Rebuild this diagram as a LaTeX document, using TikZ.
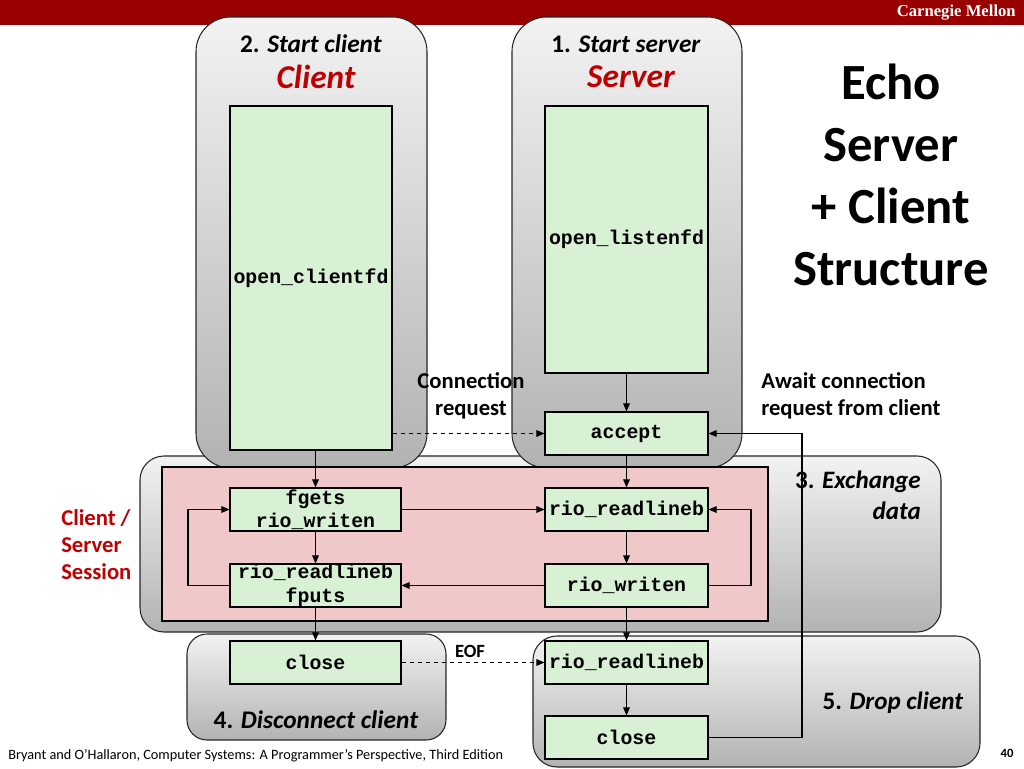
\documentclass[tikz,border=0pt]{standalone}
\usepackage{fontspec}
\setmainfont{Carlito}
\setmonofont{Liberation Mono}
\newfontfamily\hdrfont{Liberation Serif}
\usetikzlibrary{arrows.meta}
\definecolor{hdr}{RGB}{153,0,0}
\definecolor{cmred}{RGB}{192,0,0}
\definecolor{gfill}{RGB}{216,240,211}
\definecolor{pinkf}{RGB}{240,200,201}
\newcommand{\fs}[2]{\fontsize{#1}{#2}\selectfont}
\tikzset{
  gbox/.style={draw=black, fill=gfill, line width=0.9pt, inner sep=0pt, align=center,
    font=\ttfamily\bfseries\fs{14.9}{17.5}, minimum height=32.25pt, minimum width=122.25pt},
  wbox/.style={gbox, minimum width=128.25pt},
  cont/.style={draw=black!85, line width=0.8pt, top color=black!5, bottom color=black!30},
  arr/.style={-{Triangle[length=6pt,width=5pt]}, line width=0.8pt},
  dsh/.style={arr, dashed},
  lbl/.style={inner sep=0pt, align=center},
}
\begin{document}
\begin{tikzpicture}[x=0.75pt,y=-0.75pt]
\useasboundingbox (0,0) rectangle (1024,768);
% header
\fill[hdr] (0,0) rectangle (1024,25);
\node[lbl, anchor=east, text=white, font=\hdrfont\bfseries\fs{12.5}{14}] (cmu) at (1016,13) {Carnegie Mellon};
% containers
\path[cont, rounded corners=18pt] (140,456) rectangle (941,632);
\path[cont, rounded corners=26pt] (196,17) rectangle (427,468);
\path[cont, rounded corners=26pt] (512,17) rectangle (742,468);
\path[draw=black, line width=0.8pt, fill=pinkf] (162,467) rectangle (768,621);
\path[cont, rounded corners=15pt] (187,634) rectangle (446,740);
\path[cont, rounded corners=18pt] (533,636) rectangle (980,767);
% titles
\node[lbl, font=\bfseries\fs{19}{22}] (t2) at (311,44) {2. \textit{Start client}};
\node[lbl, font=\bfseries\itshape\fs{25}{28}, text=cmred] (tc) at (316,77) {Client};
\node[lbl, font=\bfseries\fs{19}{22}] (t1) at (626,44) {1. \textit{Start server}};
\node[lbl, font=\bfseries\itshape\fs{25}{28}, text=cmred] (ts) at (631,77) {Server};
\node[lbl, font=\bfseries\fs{38}{46.5}] (echo) at (891,175) {Echo\\Server\\+ Client\\Structure};
% green boxes
\node[gbox, minimum width=121.5pt, minimum height=258pt] (ocf) at (311,278) {open\_clientfd};
\node[gbox, minimum height=200.25pt] (olf) at (626.5,239.5) {open\_listenfd};
\node[gbox] (acc) at (626.5,433.5) {accept};
\node[wbox] (fg) at (315.5,509.5) {fgets\\rio\_writen};
\node[gbox] (srl) at (626.5,509.5) {rio\_readlineb};
\node[wbox] (crl) at (315.5,585.5) {rio\_readlineb\\fputs};
\node[gbox] (swr) at (626.5,585.5) {rio\_writen};
\node[wbox] (cl1) at (315.5,662.5) {close};
\node[gbox] (drl) at (626.5,662.5) {rio\_readlineb};
\node[gbox] (cl2) at (626.5,737.5) {close};
% labels
\node[lbl, font=\bfseries\fs{17}{20}] (cr) at (471,396) {Connection\\request};
\node[lbl, anchor=west, align=left, font=\bfseries\fs{17}{20}] (aw) at (761,396) {Await connection\\request from client};
\node[lbl, anchor=east, align=right, font=\bfseries\fs{18.8}{23}] (ex) at (921,495) {3. \textit{Exchange}\\\textit{data}};
\node[lbl, anchor=west, align=left, text=cmred, font=\bfseries\fs{17}{20.3}] (css) at (61,545) {Client /\\Server\\Session};
\node[lbl, font=\bfseries\fs{14}{16}] (eof) at (470,651) {EOF};
\node[lbl, font=\bfseries\fs{19}{22}] (dc) at (316,720) {4. \textit{Disconnect client}};
\node[lbl, font=\bfseries\fs{18.8}{22}] (dr) at (893,703) {5. \textit{Drop client}};
\node[lbl, anchor=west, font=\fs{10.7}{12}] (foot) at (8,756) {Bryant and O’Hallaron, Computer Systems: A Programmer’s Perspective, Third Edition};
\node[lbl, font=\bfseries\fs{9.5}{11}] (pg) at (1007,753) {40};
% connectors
\coordinate (rr) at (802,0);
\coordinate (rl) at (751,0);
\coordinate (ll) at (188,0);
\draw[arr] (olf) -- (acc);
\draw[dsh] (ocf.east |- acc.west) -- (acc.west);
\draw[arr] (fg.north |- ocf.south) -- (fg.north);
\draw[arr] (acc) -- (srl);
\draw[arr] (fg.east) -- (srl.west);
\draw[arr] (srl) -- (swr);
\draw[arr] (fg) -- (crl);
\draw[arr] (swr.west) -- (crl.east);
\draw[arr] (swr.east) -| (rl |- srl.east) -- (srl.east);
\draw[arr] (crl.west) -| (ll |- fg.west) -- (fg.west);
\draw[arr] (crl) -- (cl1);
\draw[arr] (swr) -- (drl);
\draw[dsh] (cl1.east) -- (drl.west);
\draw[arr] (drl) -- (cl2);
\draw[arr] (cl2.east) -| (rr |- acc.east) -- (acc.east);
\end{tikzpicture}
\end{document}
